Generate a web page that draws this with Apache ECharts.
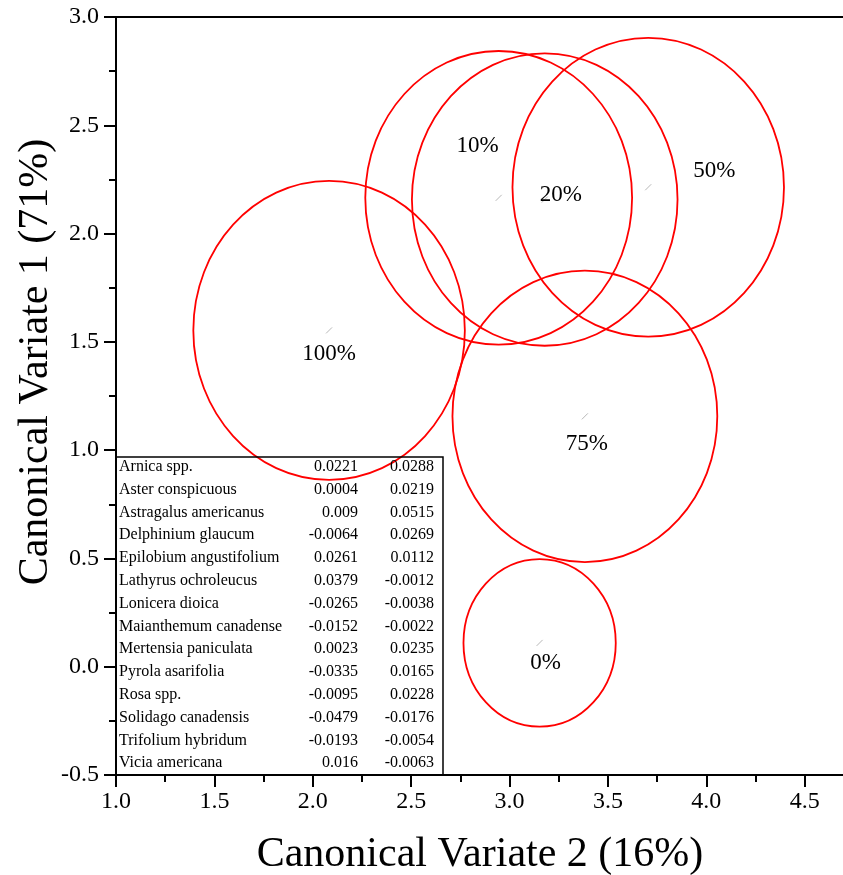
<!DOCTYPE html>
<html>
<head>
<meta charset="utf-8">
<script src="https://cdn.jsdelivr.net/npm/echarts@6/dist/echarts.min.js"></script>
<style>
  html, body { margin: 0; padding: 0; background: #ffffff; }
  #chart { width: 843px; height: 875px; }
</style>
</head>
<body>
<div id="chart"></div>
<script>
// Group centroids on the first two canonical variates, with 95% confidence radii
const groups    = ['0%', '10%', '20%', '50%', '75%', '100%'];
const cv2Centre = [3.153, 2.945, 3.179, 3.705, 3.383, 2.083];
const cv1Centre = [0.110, 2.165, 2.157, 2.214, 1.156, 1.553];
const radius    = [0.387, 0.678, 0.675, 0.690, 0.673, 0.690];

// Canonical coefficients for each species
const species = [
  'Arnica spp.', 'Aster conspicuous', 'Astragalus americanus', 'Delphinium glaucum',
  'Epilobium angustifolium', 'Lathyrus ochroleucus', 'Lonicera dioica',
  'Maianthemum canadense', 'Mertensia paniculata', 'Pyrola asarifolia',
  'Rosa spp.', 'Solidago canadensis', 'Trifolium hybridum', 'Vicia americana'
];
const coefFirst  = [0.0221, 0.0004, 0.009, -0.0064, 0.0261, 0.0379, -0.0265,
                    -0.0152, 0.0023, -0.0335, -0.0095, -0.0479, -0.0193, 0.016];
const coefSecond = [0.0288, 0.0219, 0.0515, 0.0269, 0.0112, -0.0012, -0.0038,
                    -0.0022, 0.0235, 0.0165, 0.0228, -0.0176, -0.0054, -0.0063];

// Axis tick values
const xTicks = { min: 1.0, max: 4.7, step: 0.5 };
const yTicks = { min: -0.5, max: 3.0, step: 0.5 };

// Layout and style settings
const SERIF = '"Liberation Serif", "Times New Roman", serif';
const labelOffset = {            // pixel offset of each group label from its centroid
  '0%':   [6, 20],
  '10%':  [-21, -52],
  '20%':  [16, -5],
  '50%':  [66, -16],
  '75%':  [2, 28],
  '100%': [0, 24]
};
const tableBox = { x: 116, y: 457, w: 327, h: 318, rowTop: 466.7, rowStep: 22.8,
                   nameX: 119, col1X: 358, col2X: 434 };

const circleData = groups.map((g, i) => [cv2Centre[i], cv1Centre[i], radius[i], g]);

function renderGroup(params, api) {
  const c = api.coord([api.value(0), api.value(1)]);
  const s = api.size([api.value(2), api.value(2)]);
  const name = groups[params.dataIndex];
  const off = labelOffset[name];
  return {
    type: 'group',
    children: [
      {
        type: 'ellipse',
        shape: { cx: c[0], cy: c[1], rx: s[0], ry: s[1] },
        style: { fill: 'none', stroke: '#ff0000', lineWidth: 1.8 }
      },
      {
        type: 'line',
        shape: { x1: c[0] - 3, y1: c[1] + 3, x2: c[0] + 3, y2: c[1] - 3 },
        style: { stroke: '#b8b8b8', lineWidth: 1 }
      },
      {
        type: 'text',
        x: c[0] + off[0],
        y: c[1] + off[1],
        style: {
          text: name, fill: '#000', fontSize: 23, fontFamily: SERIF,
          align: 'center', verticalAlign: 'middle'
        }
      }
    ]
  };
}

// Coefficient table drawn in the lower-left corner of the plot
const tableElements = [{
  type: 'rect',
  shape: { x: tableBox.x, y: tableBox.y, width: tableBox.w, height: tableBox.h },
  style: { fill: 'none', stroke: '#000', lineWidth: 1.5 },
  z: 10
}];
species.forEach((sp, i) => {
  const y = tableBox.rowTop + i * tableBox.rowStep;
  const base = { fill: '#000', fontSize: 16, fontFamily: SERIF, verticalAlign: 'middle' };
  tableElements.push(
    { type: 'text', x: tableBox.nameX, y, style: Object.assign({ text: sp, align: 'left' }, base), z: 10 },
    { type: 'text', x: tableBox.col1X, y, style: Object.assign({ text: String(coefFirst[i]), align: 'right' }, base), z: 10 },
    { type: 'text', x: tableBox.col2X, y, style: Object.assign({ text: String(coefSecond[i]), align: 'right' }, base), z: 10 }
  );
});
tableElements.push({
  type: 'text', x: 36, y: 362, rotation: Math.PI / 2,
  style: { text: 'Canonical Variate 1 (71%)', fill: '#000', fontSize: 42, fontFamily: SERIF,
           align: 'center', verticalAlign: 'middle' }
});

const axisLineStyle = { color: '#000', width: 2 };
const chart = echarts.init(document.getElementById('chart'), null, { renderer: 'canvas' });
chart.setOption({
  backgroundColor: '#ffffff',
  animation: false,
  grid: { left: 116, top: 17, width: 728, height: 758, containLabel: false, outerBoundsMode: 'none' },
  xAxis: [{
    type: 'value', position: 'bottom',
    min: xTicks.min, max: xTicks.max, interval: xTicks.step,
    axisLine: { onZero: false, lineStyle: axisLineStyle },
    axisTick: { inside: false, length: 12, lineStyle: axisLineStyle },
    minorTick: { show: true, splitNumber: 2, length: 7, lineStyle: axisLineStyle },
    splitLine: { show: false },
    axisLabel: { showMaxLabel: false, margin: 15, color: '#000', fontSize: 24, fontFamily: SERIF,
                 formatter: v => v.toFixed(1) },
    name: 'Canonical Variate 2 (16%)', nameLocation: 'middle', nameGap: 59,
    nameTextStyle: { color: '#000', fontSize: 42, fontFamily: SERIF }
  }, {
    type: 'value', position: 'top',
    min: xTicks.min, max: xTicks.max, interval: xTicks.step,
    axisLine: { onZero: false, lineStyle: axisLineStyle },
    axisTick: { show: false }, axisLabel: { show: false }, splitLine: { show: false }
  }],
  yAxis: [{
    type: 'value', position: 'left',
    min: yTicks.min, max: yTicks.max, interval: yTicks.step,
    axisLine: { onZero: false, lineStyle: axisLineStyle },
    axisTick: { inside: false, length: 12, lineStyle: axisLineStyle },
    minorTick: { show: true, splitNumber: 2, length: 7, lineStyle: axisLineStyle },
    splitLine: { show: false },
    axisLabel: { margin: 17, color: '#000', fontSize: 24, fontFamily: SERIF,
                 formatter: v => v.toFixed(1) }
  }],
  series: [{
    type: 'custom',
    xAxisIndex: 0, yAxisIndex: 0,
    renderItem: renderGroup,
    data: circleData,
    clip: false
  }],
  graphic: tableElements
});
</script>
</body>
</html>
